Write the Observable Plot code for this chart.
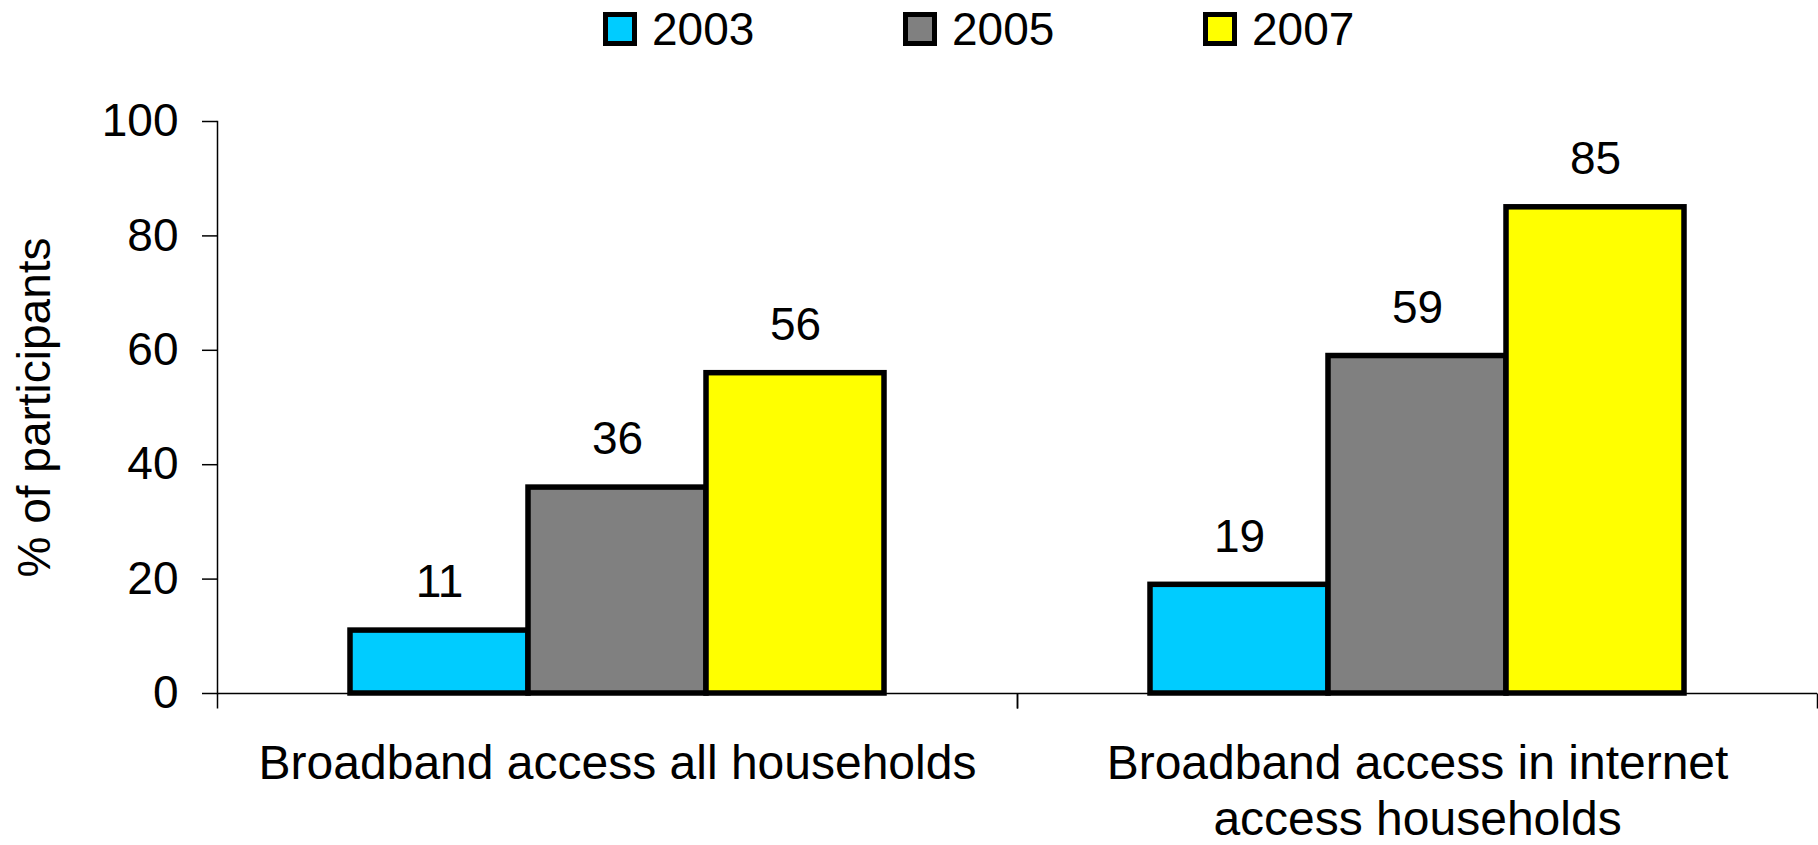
<!DOCTYPE html>
<html>
<head>
<meta charset="utf-8">
<script src="https://cdn.jsdelivr.net/npm/d3@7"></script>
<script src="https://cdn.jsdelivr.net/npm/@observablehq/plot@0.6"></script>
<style>
  html, body { margin: 0; padding: 0; background: #fff; }
  body { width: 1818px; height: 845px; overflow: hidden; font-family: "Liberation Sans", Arial, sans-serif; }
  #legend { position: relative; height: 60px; }
  .item { position: absolute; top: 11px; display: flex; align-items: center; height: 36px; }
  .sw { width: 34px; height: 34px; box-sizing: border-box; border: 5px solid #000; margin-right: 15px; }
  .lab { font-size: 46px; line-height: 36px; color: #000; }
  svg { display: block; }
</style>
</head>
<body>
<div id="legend"></div>
<div id="chart"></div>
<script>
const categories = ["Broadband access all households", "Broadband access in internet access households"];
const categoryLabels = ["Broadband access all households", "Broadband access in internet\naccess households"];
const years = ["2003", "2005", "2007"];
const values2003 = [11, 19];
const values2005 = [36, 59];
const values2007 = [56, 85];
const colors = ["#00CCFF", "#808080", "#FFFF00"];
const yTicks = [0, 20, 40, 60, 80, 100];
const yLabel = "% of participants";

const series = [values2003, values2005, values2007];
const data = [];
categories.forEach((c, ci) => {
  years.forEach((y, yi) => data.push({category: c, year: y, value: series[yi][ci]}));
});

// Legend
const legend = document.getElementById("legend");
years.forEach((y, i) => {
  const it = document.createElement("div");
  it.className = "item";
  it.style.left = (603 + i * 300) + "px";
  it.innerHTML = `<div class="sw" style="background:${colors[i]}"></div><span class="lab">${y}</span>`;
  legend.appendChild(it);
});

const tickSymbol = {draw(ctx) { ctx.moveTo(0, 0); ctx.lineTo(0, 15); }};
const font = "Liberation Sans, Arial, sans-serif";

const chart = Plot.plot({
  width: 1818,
  height: 785,
  marginLeft: 216,
  marginRight: 1,
  marginTop: 61,
  marginBottom: 152,
  style: {fontFamily: font, color: "#000", background: "#fff"},
  fx: {domain: categories, padding: 0, label: null, axis: null},
  x: {domain: years, paddingInner: 0, paddingOuter: 0.742, axis: null},
  y: {domain: [0, 100], axis: null},
  color: {domain: years, range: colors},
  marks: [
    Plot.barY(data, {fx: "category", x: "year", y: "value", fill: "year", stroke: "#000", strokeWidth: 5.5}),
    Plot.ruleY([0], {stroke: "#000", strokeWidth: 1.5}),
    Plot.frame({anchor: "left", facetAnchor: "left", stroke: "#000", strokeWidth: 1.5}),
    Plot.dot([0], {frameAnchor: "bottom-left", symbol: tickSymbol, stroke: "#000", strokeWidth: 1.5, fill: "none"}),
    Plot.dot([0], {frameAnchor: "bottom-right", symbol: tickSymbol, stroke: "#000", strokeWidth: 1.5, fill: "none"}),
    Plot.text(data, {fx: "category", x: "year", y: "value", text: d => String(d.value), dy: -48, fontSize: 46, fill: "#000"}),
    Plot.axisY({ticks: yTicks, tickSize: 15, tickPadding: 24, fontSize: 46, stroke: "#000", strokeWidth: 1.5,
      label: yLabel, labelAnchor: "center", labelOffset: 200, labelArrow: "none"}),
    Plot.axisFx({anchor: "bottom", tickSize: 0, tickPadding: 45, fontSize: 48, lineHeight: 1.18, label: null,
      tickFormat: d => categoryLabels[categories.indexOf(d)]})
  ]
});
document.getElementById("chart").appendChild(chart);
</script>
</body>
</html>
